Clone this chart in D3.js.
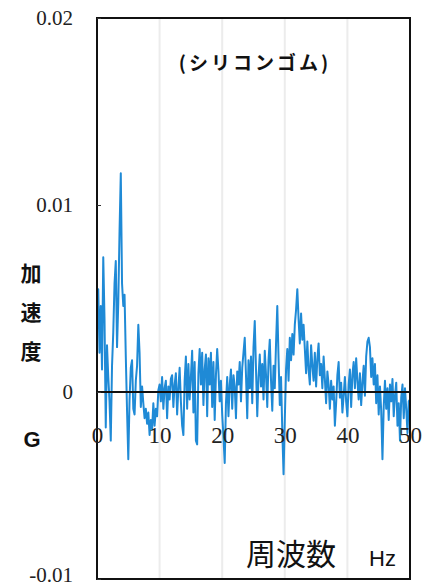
<!DOCTYPE html>
<html>
<head>
<meta charset="utf-8">
<script src="https://cdn.jsdelivr.net/npm/d3@7"></script>
<style>
  html, body { margin: 0; padding: 0; background: #ffffff; }
  svg { display: block; }
  .num { font-family: "Liberation Serif", "DejaVu Serif", "Times New Roman", serif; }
</style>
</head>
<body>
<script>
// Frequency spectrum of acceleration, silicone rubber mount
const FREQ_STEP = 0.2;            // Hz between samples
const accelMilliG = [             // acceleration in units of 0.001 G, 0–50 Hz
  3.8, 5.5, 2.1, 4.6, 1.2, 7.2, 3.9, -1.9, 2.5, 0.8,
  -0.5, -2.6, 1.4, 3.2, 5.8, 7.0, 2.4, 4.8, 8.6, 11.7,
  5.8, 4.6, 5.2, 1.9, -1.0, -3.6, -0.4, 1.3, 1.7, -0.9,
  -1.2, 0.6, 1.4, 3.6, 2.1, -0.8, 0.3, -0.6, -1.4, -0.9,
  -1.7, -1.1, -2.3, -1.5, -2.0, -0.6, -1.8, -0.9, -1.3, 0.1,
  0.4, -0.5, 0.8, -0.9, 0.2, 0.6, -1.4, 0.3, -0.4, 0.7,
  0.9, -0.8, 0.4, 1.0, -1.2, 0.2, 1.3, -0.5, -1.8, -2.3,
  0.6, 1.9, -0.9, 1.5, -0.4, 0.8, 2.2, -1.1, 1.6, -2.6,
  -2.8, 1.0, 2.3, 0.4, 2.1, -0.7, 1.2, 2.0, -1.3, 1.8,
  0.4, 2.1, -0.8, 1.6, -1.5, 0.9, 2.3, 1.1, -0.5, 0.6,
  -1.2, -2.4, -3.8, -0.6, 0.8, -1.3, 0.4, 1.2, -0.9, 0.9,
  0.3, -1.4, 1.1, 0.4, 1.6, -0.5, 1.3, 2.1, 2.9, 0.9,
  -1.4, 1.7, 0.2, 1.9, -0.6, 2.4, 3.8, 1.2, -1.3, 0.8,
  2.0, 0.3, 1.5, -0.4, 2.2, 0.9, -0.8, 1.7, 2.8, 0.6,
  -1.0, 1.4, 0.2, 2.6, 4.6, 1.8, -0.7, 0.8, -2.1, -4.4,
  -1.5, 1.2, 2.3, 0.6, 2.9, 1.7, 3.1, 2.0, 3.6, 4.4,
  5.5, 3.9, 2.6, 4.2, 2.8, 3.6, 2.3, 1.0, 2.7, 1.2,
  0.4, 2.5, 1.4, 0.6, 2.1, 0.3, 1.8, 2.6, 0.9, 1.5,
  0.2, 1.9, 0.7, -0.6, 1.1, 0.4, -0.9, 0.6, -0.4, 0.3,
  -1.8, -0.6, 0.9, 1.6, -0.3, 0.5, -1.1, -0.2, 0.8, -0.5,
  -1.3, 0.4, 1.2, -0.8, 0.9, 1.6, 0.2, 1.8, 0.6, -0.4,
  1.0, -0.7, 0.5, 1.4, -0.2, 1.9, 2.7, 2.9, 2.4, 0.8,
  1.8, 0.4, 1.5, -0.6, 0.9, -1.2, 0.3, -1.0, -3.6, -0.8,
  0.6, -0.9, 0.2, -1.5, 0.4, -0.5, 0.7, -1.3, -0.2, 0.5,
  -1.8, -0.6, -2.6, -0.3, 0.4, -1.4, 0.2, -0.9, -2.2, -0.5,
  -0.4
];

const xTicks = [0, 10, 20, 30, 40, 50];
const xTickLabels = ["0", "10", "20", "30", "40", "50"];
const yTicks = [-0.01, 0, 0.01, 0.02];
const yTickLabels = ["-0.01", "0", "0.01", "0.02"];
const gridFreqs = [10, 20, 30, 40];

const titleText = "(シリコンゴム)";
const yTitleChars = ["加", "速", "度"];
const yUnitText = "G";
const xTitleText = "周波数";
const xUnitText = "Hz";

const W = 424, H = 588;
const plot = { left: 97, right: 410, top: 18, bottom: 579 };

const svg = d3.select("body").append("svg")
  .attr("width", W).attr("height", H);

const x = d3.scaleLinear().domain([0, 50]).range([plot.left, plot.right]);
const y = d3.scaleLinear().domain([-0.01, 0.02]).range([plot.bottom, plot.top]);

const series = accelMilliG.map((v, i) => ({ f: i * FREQ_STEP, a: v / 1000 }));

// faint vertical gridlines
svg.append("g").selectAll("line").data(gridFreqs).join("line")
  .attr("x1", d => x(d)).attr("x2", d => x(d))
  .attr("y1", plot.top).attr("y2", plot.bottom)
  .attr("stroke", "#ececec").attr("stroke-width", 2);

// spectrum trace
svg.append("path")
  .datum(series)
  .attr("fill", "none")
  .attr("stroke", "#1f8ad6")
  .attr("stroke-width", 2)
  .attr("stroke-linejoin", "round")
  .attr("d", d3.line().x(d => x(d.f)).y(d => y(d.a)));

// zero line
svg.append("line")
  .attr("x1", plot.left).attr("x2", plot.right)
  .attr("y1", y(0)).attr("y2", y(0))
  .attr("stroke", "#111").attr("stroke-width", 2);

// plot frame
svg.append("rect")
  .attr("x", plot.left).attr("y", plot.top)
  .attr("width", plot.right - plot.left).attr("height", plot.bottom - plot.top)
  .attr("fill", "none").attr("stroke", "#111").attr("stroke-width", 2);

// y axis labels
const yAxis = d3.axisLeft(y)
  .tickValues(yTicks)
  .tickFormat((d, i) => yTickLabels[i])
  .tickSizeInner(-4).tickSizeOuter(0).tickPadding(24);
const gy = svg.append("g").attr("transform", `translate(${plot.left},0)`).call(yAxis)
  .attr("font-family", null);
gy.select(".domain").remove();
gy.selectAll(".tick line").attr("stroke", "#333");
gy.selectAll("text")
  .attr("class", "num")
  .attr("font-size", 21).attr("fill", "#222")
  .attr("dy", d => d === -0.01 ? "0.1em" : "0.32em");

// x axis labels, sitting under the zero line
const xAxis = d3.axisBottom(x)
  .tickValues(xTicks)
  .tickFormat((d, i) => xTickLabels[i])
  .tickSize(0).tickPadding(35);
const gx = svg.append("g").attr("transform", `translate(0,${y(0)})`).call(xAxis)
  .attr("font-family", null);
gx.select(".domain").remove();
gx.selectAll("text")
  .attr("class", "num")
  .attr("font-size", 23).attr("fill", "#222");

// chart title
svg.append("text")
  .attr("x", 255).attr("y", 70)
  .attr("text-anchor", "middle")
  .attr("font-family", "'Noto Sans CJK JP', sans-serif")
  .attr("font-weight", 700).attr("font-size", 19)
  .attr("letter-spacing", 3)
  .attr("fill", "#111")
  .text(titleText);

// vertical y title
svg.append("g").selectAll("text").data(yTitleChars).join("text")
  .attr("x", 31).attr("y", (d, i) => 281 + i * 39)
  .attr("text-anchor", "middle")
  .attr("font-family", "'Noto Sans CJK JP', sans-serif")
  .attr("font-weight", 700).attr("font-size", 21)
  .attr("fill", "#111")
  .text(d => d);

svg.append("text")
  .attr("x", 32).attr("y", 447)
  .attr("text-anchor", "middle")
  .attr("font-family", "'Liberation Sans', Arial, sans-serif")
  .attr("font-weight", 700).attr("font-size", 22)
  .attr("fill", "#111")
  .text(yUnitText);

// x title
svg.append("text")
  .attr("x", 246).attr("y", 565)
  .attr("font-family", "'Noto Sans CJK JP', sans-serif")
  .attr("font-weight", 400).attr("font-size", 30)
  .attr("fill", "#111")
  .text(xTitleText);

svg.append("text")
  .attr("x", 369).attr("y", 566)
  .attr("font-family", "'Liberation Sans', Arial, sans-serif")
  .attr("font-size", 22)
  .attr("fill", "#111")
  .text(xUnitText);
</script>
</body>
</html>
